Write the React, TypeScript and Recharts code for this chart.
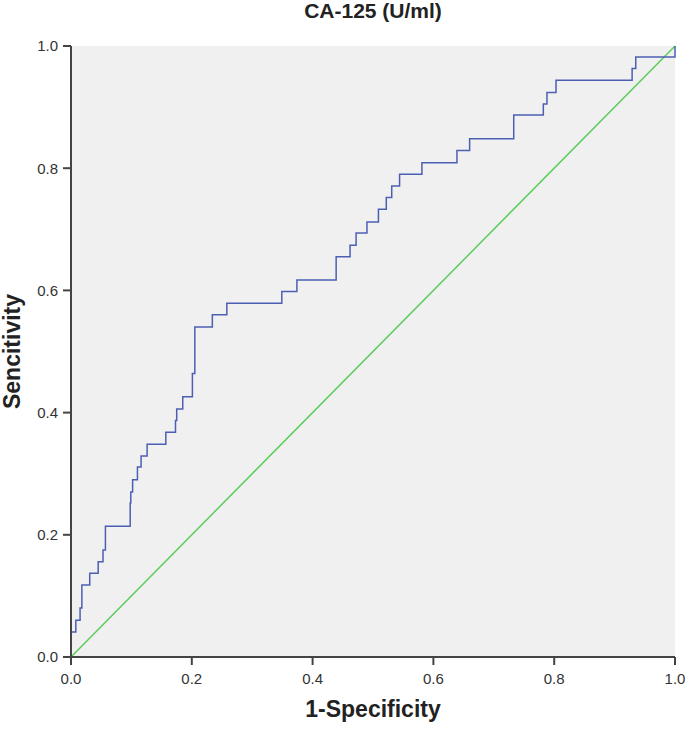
import React from 'react'
import { LineChart, Line, XAxis, YAxis, CartesianGrid, Label } from 'recharts'

// ROC corner points (1-specificity, sensitivity)
const fpr = [0, 0, 0.008, 0.015, 0.018, 0.031, 0.045, 0.053, 0.057, 0.098, 0.099, 0.102, 0.110, 0.116, 0.126, 0.157, 0.173, 0.175, 0.185, 0.201, 0.205, 0.234, 0.258, 0.349, 0.374, 0.439, 0.462, 0.472, 0.490, 0.509, 0.522, 0.531, 0.544, 0.581, 0.639, 0.660, 0.733, 0.782, 0.788, 0.803, 0.929, 0.935, 1.0]
const sens = [0, 0.041, 0.060, 0.080, 0.118, 0.137, 0.156, 0.175, 0.214, 0.252, 0.270, 0.290, 0.311, 0.329, 0.348, 0.368, 0.387, 0.406, 0.426, 0.464, 0.540, 0.560, 0.579, 0.598, 0.617, 0.655, 0.674, 0.694, 0.712, 0.733, 0.752, 0.771, 0.790, 0.809, 0.829, 0.848, 0.887, 0.905, 0.924, 0.944, 0.963, 0.982, 1.0]
const refX = [0, 1]
const refY = [0, 1]
const ticks = [0, 0.2, 0.4, 0.6, 0.8, 1.0]

const rocData = fpr.map((x, i) => ({ x, y: sens[i] }))
const refData = refX.map((x, i) => ({ x, y: refY[i] }))

const font = '"Liberation Sans", Arial, sans-serif'
const tickStyle = { fontSize: 15, fill: '#333', fontFamily: font }
const fmt = (v: number) => v.toFixed(1)

function App() {
  return (
    <div style={{ position: 'absolute', left: 0, top: 0, width: 685, height: 729, background: '#fff' }}>
      <div style={{ position: 'absolute', left: 71, width: 604, top: -1, textAlign: 'center', fontFamily: font, fontWeight: 'bold', fontSize: 21, color: '#222' }}>
        CA-125 (U/ml)
      </div>
      <LineChart width={685} height={729} data={rocData} margin={{ top: 46, right: 10, left: 0, bottom: 0 }}>
        <CartesianGrid fill="#f0f0f0" horizontal={false} vertical={false} />
        <XAxis xAxisId="top" orientation="top" type="number" dataKey="x" domain={[0, 1]} height={0}
          tick={false} tickLine={false} axisLine={{ stroke: '#666', strokeWidth: 2 }} />
        <YAxis yAxisId="right" orientation="right" type="number" dataKey="y" domain={[0, 1]} width={0}
          tick={false} tickLine={false} axisLine={{ stroke: '#666', strokeWidth: 2 }} />
        <XAxis type="number" dataKey="x" domain={[0, 1]} ticks={ticks} tickFormatter={fmt} height={72}
          tick={tickStyle} tickSize={8} tickMargin={8} interval={0}
          axisLine={{ stroke: '#444', strokeWidth: 2 }} tickLine={{ stroke: '#444', strokeWidth: 2 }}>
          <Label value="1-Specificity" position="insideBottom" offset={12}
            style={{ fontFamily: font, fontWeight: 'bold', fontSize: 23, fill: '#222' }} />
        </XAxis>
        <YAxis type="number" dataKey="y" domain={[0, 1]} ticks={ticks} tickFormatter={fmt} width={71}
          tick={tickStyle} tickSize={8} tickMargin={5} interval={0}
          axisLine={{ stroke: '#444', strokeWidth: 2 }} tickLine={{ stroke: '#444', strokeWidth: 2 }}>
          <Label content={(p: any) => {
            const vb = p.viewBox || { x: 0, y: 0, width: 71, height: 611 }
            const cx = vb.x + 12
            const cy = vb.y + vb.height / 2
            return (
              <text x={cx} y={cy} transform={`rotate(-90 ${cx} ${cy})`} textAnchor="middle" dominantBaseline="central"
                style={{ fontFamily: font, fontWeight: 'bold', fontSize: 23, fill: '#222' }}>Sencitivity</text>
            )
          }} />
        </YAxis>
        <Line data={refData} dataKey="y" type="linear" stroke="#5ccc5c" strokeWidth={1.5} dot={false} isAnimationActive={false} />
        <Line data={rocData} dataKey="y" type="stepAfter" stroke="#4d5fb3" strokeWidth={1.5} dot={false} isAnimationActive={false} />
      </LineChart>
    </div>
  )
}

export default App
